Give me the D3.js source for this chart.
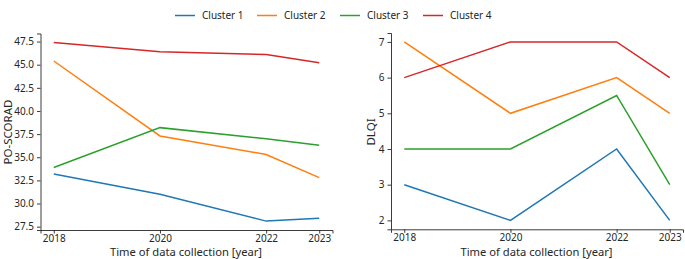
<!DOCTYPE html>
<html><head><meta charset="utf-8">
<script src="https://cdn.jsdelivr.net/npm/d3@7"></script>
<style>body{margin:0;background:#fff}svg{display:block}</style>
</head><body>
<svg id="c" width="685" height="259"></svg>
<script>
const years = [2018, 2020, 2022, 2023];
const clusters = ["Cluster 1", "Cluster 2", "Cluster 3", "Cluster 4"];
const colors = ["#1f77b4", "#ff7f0e", "#2ca02c", "#d62728"];
const scorad = [
  [33.2, 31.0, 28.1, 28.4],
  [45.4, 37.3, 35.3, 32.8],
  [33.9, 38.2, 37.0, 36.3],
  [47.4, 46.4, 46.1, 45.2]
];
const dlqi = [
  [3, 2, 4, 2],
  [7, 5, 6, 5],
  [4, 4, 5.5, 3],
  [6, 7, 7, 6]
];
const scoradTicks = [27.5, 30.0, 32.5, 35.0, 37.5, 40.0, 42.5, 45.0, 47.5];
const dlqiTicks = [2, 3, 4, 5, 6, 7];

const svg = d3.select("#c");
const FONT = "'Noto Sans', sans-serif";
const INK = "#262626";

function panel(opt) {
  const x = d3.scaleLinear().domain([2017.75, 2023.25]).range([opt.x0, opt.x1]);
  const y = d3.scaleLinear().domain(opt.ydom).range([opt.y1, opt.y0]);
  const g = svg.append("g");
  const xa = g.append("g").attr("transform", `translate(0,${opt.y1})`)
    .call(d3.axisBottom(x).tickValues(years).tickFormat(d3.format("d")).tickSizeOuter(0).tickSize(3.5).tickPadding(1));
  const ya = g.append("g").attr("transform", `translate(${opt.x0},0)`)
    .call(d3.axisLeft(y).tickValues(opt.ticks).tickFormat(opt.fmt).tickSizeOuter(0).tickSize(3.5).tickPadding(3));
  [xa, ya].forEach(a => {
    a.selectAll("text").attr("font-family", FONT).attr("font-size", 10).attr("fill", INK);
    a.selectAll("line").attr("stroke", INK).attr("stroke-width", 0.9);
    a.select(".domain").attr("stroke", INK).attr("stroke-width", 0.9);
  });
  const line = d3.line().x((d, i) => x(years[i])).y(d => y(d));
  opt.data.forEach((s, k) => {
    g.append("path").attr("d", line(s)).attr("fill", "none")
      .attr("stroke", colors[k]).attr("stroke-width", 1.5);
  });
  g.append("text").attr("x", (opt.x0 + opt.x1) / 2 - 0.5).attr("y", 256.2)
    .attr("text-anchor", "middle").attr("font-family", FONT).attr("font-size", 11.2)
    .attr("fill", INK).text("Time of data collection [year]");
  g.append("text").attr("transform", `translate(${opt.ylx},${opt.ylc}) rotate(-90)`)
    .attr("text-anchor", "middle").attr("font-family", FONT).attr("font-size", 11.5)
    .attr("fill", INK).text(opt.ylabel);
}

panel({x0: 40.5, x1: 332.5, y0: 33.5, y1: 230, ydom: [27.14, 48.37], ticks: scoradTicks,
  fmt: d3.format(".1f"), data: scorad, ylabel: "PO-SCORAD", ylx: 12, ylc: 132});
panel({x0: 391, x1: 683, y0: 33, y1: 229.3, ydom: [1.75, 7.25], ticks: dlqiTicks,
  fmt: d3.format("d"), data: dlqi, ylabel: "DLQI", ylx: 375, ylc: 132});

// legend
const lg = svg.append("g");
const lx = [175, 257, 340, 423];
clusters.forEach((c, i) => {
  lg.append("line").attr("x1", lx[i]).attr("x2", lx[i] + 20).attr("y1", 15.5).attr("y2", 15.5)
    .attr("stroke", colors[i]).attr("stroke-width", 1.5);
  lg.append("text").attr("x", lx[i] + 27).attr("y", 19.3).attr("font-family", FONT)
    .attr("font-size", 10).attr("fill", INK).text(c);
});
</script>
</body></html>
